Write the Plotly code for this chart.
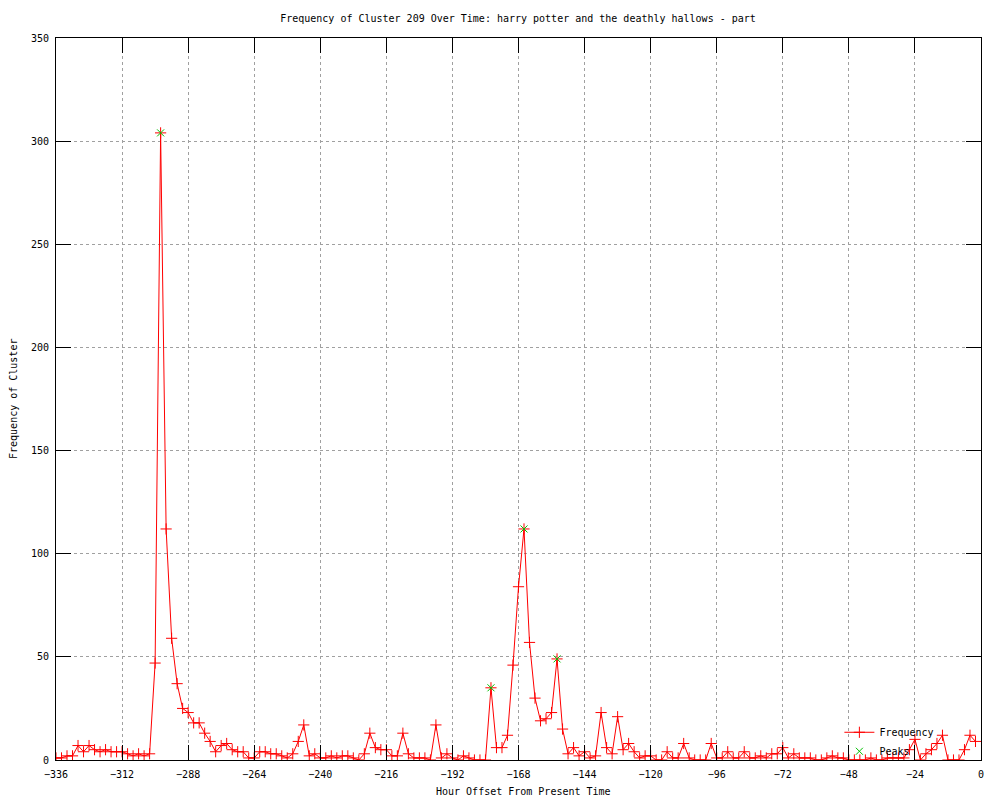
import plotly.graph_objects as go

# Hour offsets (every 2 hours) and cluster frequency
hours = list(range(-336, 0, 2))
frequency = [
    1, 1, 2, 2, 7, 4, 7, 5, 4, 5, 4, 4, 4, 3, 2, 3, 2, 3,
    47, 304, 112, 59, 37, 25, 23, 18, 18, 13, 9, 4, 7, 8, 5, 4, 4, 1, 1, 4, 4, 3, 3, 2,
    1, 3, 9, 17, 2, 3, 1, 1, 2, 1, 2, 2, 1, 0, 3, 13, 6, 5, 5, 2, 2, 13, 3, 1,
    1, 1, 0, 17, 1, 3, 1, 0, 2, 1, 0, 0, 0, 35, 6, 6, 12, 46, 84, 112, 57, 30, 19, 20,
    23, 49, 15, 3, 6, 2, 4, 1, 2, 23, 6, 3, 21, 5, 8, 4, 1, 2, 2, 0, 0, 4, 1, 1,
    8, 1, 0, 0, 0, 8, 1, 1, 4, 1, 1, 4, 1, 1, 2, 1, 3, 3, 6, 1, 3, 1, 1, 1,
    0, 0, 1, 2, 1, 1, 0, 0, 0, 0, 1, 0, 0, 1, 1, 1, 1, 5, 10, 0, 3, 5, 8, 12, 0, 0, 0, 5, 12, 9,
]
peak_hours = [-298, -178, -166, -154]
peak_values = [304, 35, 112, 49]

x_ticks = list(range(-336, 1, 24))
y_ticks = list(range(0, 351, 50))

FONT = "DejaVu Sans Mono"

fig = go.Figure()
fig.add_trace(go.Scatter(
    x=hours, y=frequency, mode="lines+markers", name="Frequency",
    line=dict(color="#ff0000", width=1),
    marker=dict(symbol="cross-thin", size=8, color="#ff0000",
                line=dict(color="#ff0000", width=1)),
))
fig.add_trace(go.Scatter(
    x=peak_hours, y=peak_values, mode="markers", name="Peaks",
    marker=dict(symbol="x-thin", size=7, color="#00c000",
                line=dict(color="#00c000", width=1)),
))

axis_common = dict(
    showline=True, linecolor="black", linewidth=1, mirror="ticks",
    ticks="inside", ticklen=15, tickcolor="black", tickwidth=1,
    showgrid=True, gridcolor="#a0a0a0", griddash="dot", gridwidth=1,
    zeroline=False, tickfont=dict(family=FONT, size=10, color="black"),
)

fig.update_xaxes(range=[-336, 0], tickvals=x_ticks, ticklabelstandoff=5, **axis_common)
fig.update_yaxes(range=[0, 350], tickvals=y_ticks, ticklabelstandoff=4, **axis_common)

fig.update_layout(
    width=1000, height=800,
    margin=dict(l=56, r=19, t=38, b=40),
    paper_bgcolor="white", plot_bgcolor="white",
    font=dict(family=FONT, size=10, color="black"),
    title=dict(text="Frequency of Cluster 209 Over Time: harry potter and the deathly hallows - part",
               x=0.518, xanchor="center", y=0.977, yanchor="middle",
               font=dict(family=FONT, size=10, color="black")),
    showlegend=True,
    legend=dict(x=0.955, y=-0.008, xanchor="right", yanchor="bottom",
                bgcolor="rgba(0,0,0,0)", font=dict(family=FONT, size=10),
                tracegroupgap=0, itemwidth=30),
    annotations=[
        dict(text="Hour Offset From Present Time", xref="paper", yref="paper",
             x=0.505, y=-0.0443, xanchor="center", yanchor="middle", showarrow=False,
             font=dict(family=FONT, size=10)),
        dict(text="Frequency of Cluster", xref="paper", yref="paper",
             x=-0.0465, y=0.5, xanchor="center", yanchor="middle", textangle=-90,
             showarrow=False, font=dict(family=FONT, size=10)),
    ],
)

fig.write_html("out.html", config={"displayModeBar": False},
               post_script="document.body.style.margin='0px';")
